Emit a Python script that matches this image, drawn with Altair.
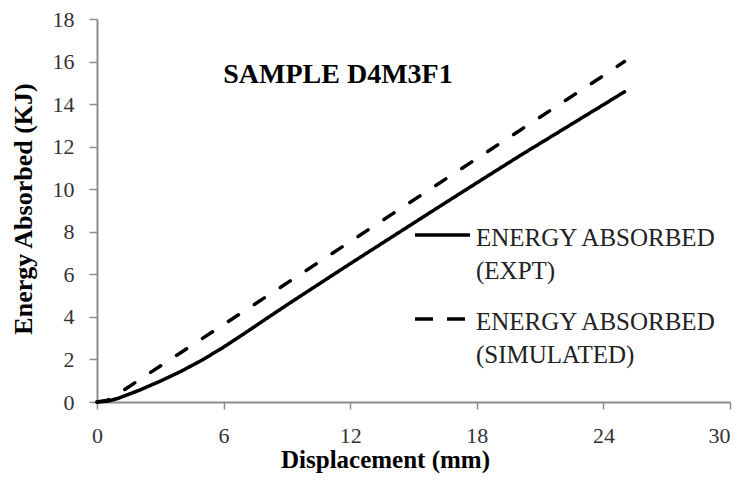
import altair as alt
import pandas as pd

# Experimental curve (solid)
expt_x = [0, 0.5, 1, 2, 3, 4, 5, 6, 7, 8, 9, 10, 12, 14, 16, 18, 20, 22, 24, 25]
expt_y = [0, 0.04, 0.17, 0.55, 0.98, 1.45, 1.98, 2.58, 3.23, 3.9, 4.56, 5.21, 6.5, 7.77, 9.04, 10.3, 11.55, 12.76, 13.97, 14.58]

# Simulated curve (dashed)
sim_x = [0, 0.5, 1, 2, 3, 4, 6, 8, 10, 12, 14, 16, 18, 20, 22, 24, 25]
sim_y = [0, 0.08, 0.38, 1.04, 1.69, 2.34, 3.64, 4.94, 6.24, 7.54, 8.84, 10.14, 11.44, 12.74, 14.04, 15.34, 16.0]

series_names = ["ENERGY ABSORBED (EXPT)", "ENERGY ABSORBED (SIMULATED)"]
x_ticks = [0, 6, 12, 18, 24, 30]
y_ticks = [0, 2, 4, 6, 8, 10, 12, 14, 16, 18]

df = pd.concat([
    pd.DataFrame({"x": expt_x, "y": expt_y, "series": series_names[0]}),
    pd.DataFrame({"x": sim_x, "y": sim_y, "series": series_names[1]}),
])

FONT = "Liberation Serif, DejaVu Serif, serif"
W, H = 633, 383
DASH = [12, 19]

lines = alt.Chart(df).mark_line(color="black", strokeWidth=3.5, strokeCap="round").encode(
    x=alt.X("x:Q", scale=alt.Scale(domain=[0, 30], nice=False),
            axis=alt.Axis(values=x_ticks, title="Displacement (mm)", grid=False,
                          titleX=288, titleY=57, titleBaseline="middle",
                          labelAlign=alt.ExprRef("datum.value == 30 ? 'right' : 'center'"))),
    y=alt.Y("y:Q", scale=alt.Scale(domain=[0, 18], nice=False),
            axis=alt.Axis(values=y_ticks, title="Energy Absorbed (KJ)", grid=False,
                          titleX=-74, titleY=H / 2 - 2, titleBaseline="middle")),
    strokeDash=alt.StrokeDash("series:N", scale=alt.Scale(domain=series_names, range=[[1, 0], DASH]), legend=None),
    order=alt.Order("x:Q"),
)

title = alt.Chart(pd.DataFrame({"t": ["SAMPLE D4M3F1"]})).mark_text(
    font=FONT, fontSize=28, fontWeight="bold", align="center", baseline="middle", color="black"
).encode(text="t:N", x=alt.value(241), y=alt.value(56))

leg_layers = []
legend_lines = [["ENERGY ABSORBED", "(EXPT)"], ["ENERGY ABSORBED", "(SIMULATED)"]]
sym_y = [216, 300]
for i, name in enumerate(series_names):
    dash = [1, 0] if i == 0 else [18, 14]
    leg_layers.append(
        alt.Chart(pd.DataFrame({"s": [name]})).mark_rule(color="black", strokeWidth=3.5, strokeDash=dash)
        .encode(x=alt.value(318), x2=alt.value(373), y=alt.value(sym_y[i]))
    )
    for j, txt in enumerate(legend_lines[i]):
        leg_layers.append(
            alt.Chart(pd.DataFrame({"t": [txt]})).mark_text(
                font=FONT, fontSize=25, align="left", baseline="middle", color="#222"
            ).encode(text="t:N", x=alt.value(379), y=alt.value(sym_y[i] + 3 + 33 * j))
        )

chart = alt.layer(lines, title, *leg_layers).properties(
    width=W, height=H,
    autosize=alt.AutoSizeParams(type="none"),
    padding={"left": 89, "top": 11, "right": 3, "bottom": 71},
).configure_view(stroke=None).configure_axis(
    labelFont=FONT, labelFontSize=22, labelColor="#333",
    titleFont=FONT, titleFontWeight="bold", titleColor="black",
    domainColor="#8c8c8c", domainWidth=2, tickColor="#8c8c8c", tickWidth=1.5,
).configure_axisX(tickSize=7, labelPadding=16, titleFontSize=25
).configure_axisY(tickSize=8, labelPadding=15, titleFontSize=26)

chart.save("out.html", embed_options={"renderer": "svg", "actions": False})
